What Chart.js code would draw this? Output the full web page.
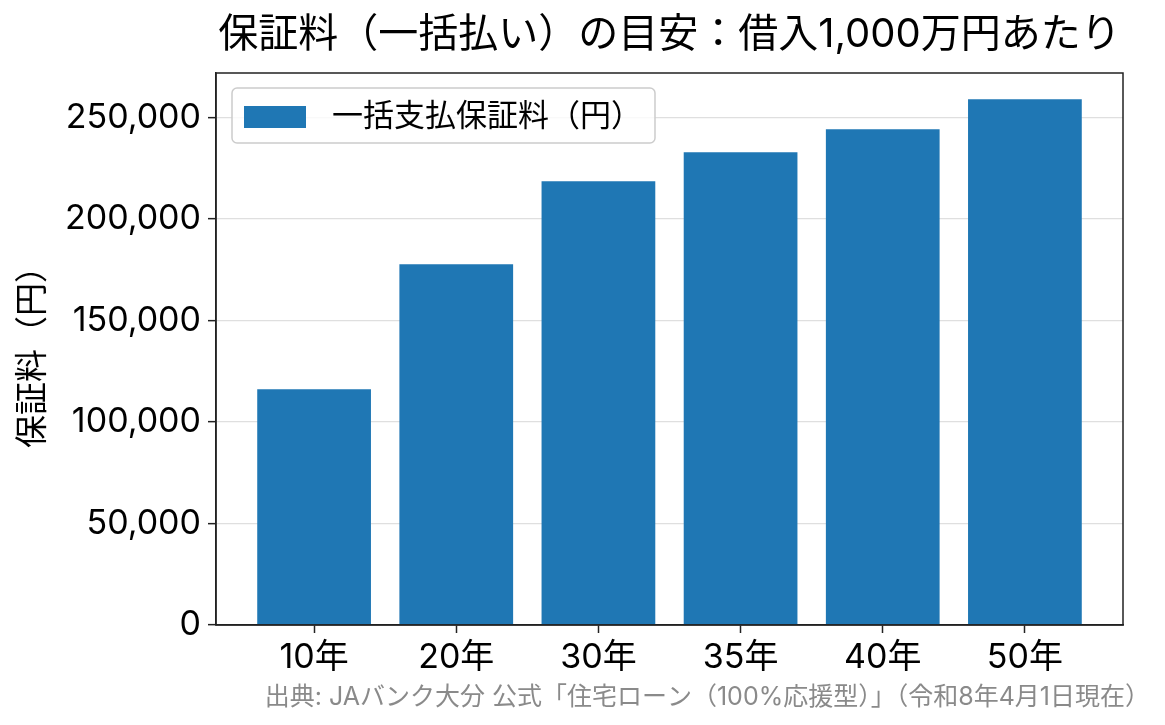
<!DOCTYPE html>
<html lang="ja">
<head>
<meta charset="utf-8">
<title>保証料（一括払い）の目安</title>
<script src="https://cdn.jsdelivr.net/npm/chart.js@4.4.1/dist/chart.umd.min.js"></script>
<style>
  html, body { margin: 0; padding: 0; background: #fff; }
  #wrap { width: 1165px; height: 725px; }
</style>
</head>
<body>
<div id="wrap"><canvas id="feeChart" width="1165" height="725"></canvas></div>
<script>
// 借入期間ごとの一括払い保証料（借入1,000万円あたり）
const terms = ["10年", "20年", "30年", "35年", "40年", "50年"];
const fees = [116100, 177700, 218500, 232800, 244100, 258900];
const yTicks = [0, 50000, 100000, 150000, 200000, 250000];

const titleText = "保証料（一括払い）の目安：借入1,000万円あたり";
const seriesLabel = "一括支払保証料（円）";
const yAxisLabel = "保証料（円）";
const sourceText = "出典: JAバンク大分 公式「住宅ローン（100%応援型）」（令和8年4月1日現在）";

// wide Latin digits from Inter, Japanese from Noto CJK
const FONT = 'Inter, "Noto Sans CJK JP", "Noto Sans", sans-serif';
const BLUE = "#1f77b4";
const INK = "#222";

// x range with a 5% margin round the bars, like the original plot
const xPad = 0.4 + 0.05 * (terms.length - 0.2);

// title, legend box, outer frame and source note
const decorations = {
  id: "decorations",
  afterDraw(chart) {
    const ctx = chart.ctx;
    const a = chart.chartArea;
    ctx.save();

    // frame on all four sides
    ctx.strokeStyle = INK;
    ctx.lineWidth = 1.5;
    ctx.strokeRect(a.left, a.top, a.right - a.left, a.bottom - a.top);

    // title
    ctx.fillStyle = "#000";
    ctx.font = "40px " + FONT;
    ctx.textAlign = "center";
    ctx.textBaseline = "middle";
    ctx.fillText(titleText, (a.left + a.right) / 2, 35);

    // legend inside the plot, top left
    ctx.font = "31px " + FONT;
    const tw = ctx.measureText(seriesLabel).width;
    const lx = a.left + 16, ly = a.top + 15;
    const lw = 12 + 62 + 26 + tw + 13, lh = 55;
    ctx.beginPath();
    ctx.roundRect(lx, ly, lw, lh, 5);
    ctx.fillStyle = "rgba(255,255,255,0.8)";
    ctx.fill();
    ctx.strokeStyle = "#cccccc";
    ctx.lineWidth = 1.5;
    ctx.stroke();
    ctx.fillStyle = chart.data.datasets[0].backgroundColor;
    ctx.fillRect(lx + 12, ly + 18, 62, 22);
    ctx.fillStyle = "#000";
    ctx.textAlign = "left";
    ctx.fillText(chart.data.datasets[0].label, lx + 100, ly + lh / 2 + 1);

    // source note
    ctx.font = "25px " + FONT;
    ctx.fillStyle = "#8a8a8a";
    ctx.textAlign = "right";
    ctx.fillText(sourceText, 1150, 697);
    ctx.restore();
  }
};

new Chart(document.getElementById("feeChart"), {
  type: "bar",
  data: {
    datasets: [{
      label: seriesLabel,
      data: fees.map((v, i) => ({ x: i, y: v })),
      backgroundColor: BLUE,
      borderWidth: 0,
      barPercentage: 0.8,
      categoryPercentage: 1.0
    }]
  },
  options: {
    responsive: false,
    animation: false,
    devicePixelRatio: 1,
    layout: { padding: { top: 73, right: 42, bottom: 0, left: 0 } },
    plugins: {
      legend: { display: false },
      title: { display: false },
      tooltip: { enabled: false }
    },
    scales: {
      x: {
        type: "linear",
        min: -xPad,
        max: terms.length - 1 + xPad,
        offset: false,
        afterBuildTicks: s => { s.ticks = terms.map((_, i) => ({ value: i })); },
        afterFit: s => { s.height = 100; },
        ticks: {
          autoSkip: false,
          maxRotation: 0,
          padding: 4,
          color: "#000",
          font: { family: FONT, size: 34 },
          callback: v => terms[v] ?? ""
        },
        grid: { drawOnChartArea: false, offset: false, tickLength: 8, tickColor: INK, tickWidth: 1.5 },
        border: { display: true, color: INK, width: 1.5 }
      },
      y: {
        min: 0,
        max: Math.max(...fees) * 1.05,
        z: 1,
        afterBuildTicks: s => { s.ticks = yTicks.map(v => ({ value: v })); },
        afterFit: s => { s.width = 216; },
        ticks: {
          padding: 7,
          color: "#000",
          font: { family: FONT, size: 34 },
          callback: v => v.toLocaleString("en-US")
        },
        grid: { color: "rgba(176,176,176,0.4)", lineWidth: 1.3, tickLength: 8, tickColor: INK, tickWidth: 1.5 },
        border: { display: true, color: INK, width: 1.5 },
        title: {
          display: true,
          text: yAxisLabel,
          color: "#000",
          font: { family: FONT, size: 33 },
          padding: { top: 13, bottom: 4 }
        }
      }
    }
  },
  plugins: [decorations]
});
</script>
</body>
</html>
